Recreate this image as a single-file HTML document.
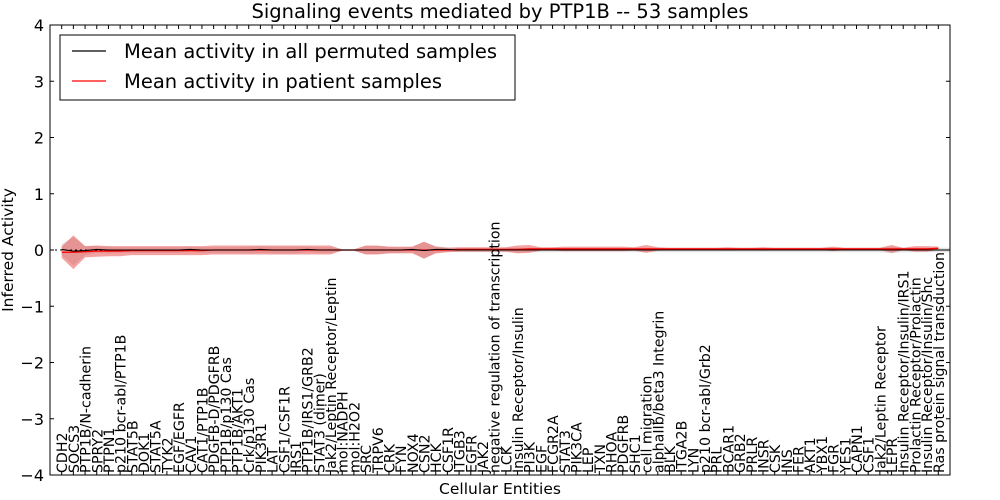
<!DOCTYPE html>
<html><head><meta charset="utf-8"><style>
html,body{margin:0;padding:0;background:#fff;}
svg{display:block;font-family:"DejaVu Sans","Liberation Sans",sans-serif;}
</style></head><body>
<svg id="chart" width="1000" height="500" xmlns="http://www.w3.org/2000/svg"></svg>
<script>
const categories=["CDH2","SOCS3","PTP1B/N-cadherin","SPRY2","PTPN1","p210 bcr-abl/PTP1B","STAT5B","DOK1","STAT5A","TYK2","EGF/EGFR","CAV1","CAT1/PTP1B","PDGFB-D/PDGFRB","PTP1B/p130 Cas","PTP1B/AKT1","Crk/p130 Cas","PIK3R1","LAT","CSF1/CSF1R","IRS1","PTP1B/IRS1/GRB2","STAT3 (dimer)","Jak2/Leptin Receptor/Leptin","mol:NADPH","mol:H2O2","SRC","TRPV6","CRK","FYN","NOX4","CSN2","HCK","CSF1R","ITGB3","EGFR","JAK2","negative regulation of transcription","LCK","Insulin Receptor/Insulin","PI3K","EGF","FCGR2A","STAT3","PIK3CA","LEP","TXN","RHOA","PDGFRB","SHC1","cell migration","alphaIIb/beta3 Integrin","BLK","ITGA2B","LYN","p210 bcr-abl/Grb2","PRL","BCAR1","GRB2","PRLR","INSR","CSK","INS","FER","AKT1","YBX1","FGR","YES1","CAPN1","CSF1","Jak2/Leptin Receptor","LEPR","Insulin Receptor/Insulin/IRS1","Prolactin Receptor/Prolactin","Insulin Receptor/Insulin/Shc","Ras protein signal transduction"];
const patientMean=[-0.04,-0.04,-0.03,-0.02,-0.02,-0.02,-0.01,-0.01,-0.01,-0.01,-0.01,-0.01,-0.01,0,0,0,0,0,0,0,0,0,0,0,0,0,0,0,0,0,0,0,0,0,0.01,0.01,0.01,0.01,0.01,0.01,0.02,0.02,0.02,0.02,0.02,0.02,0.02,0.02,0.02,0.02,0.02,0.02,0.02,0.02,0.02,0.02,0.02,0.02,0.02,0.02,0.02,0.02,0.02,0.02,0.02,0.02,0.02,0.02,0.02,0.02,0.02,0.02,0.02,0.02,0.02,0.03];
const patientStd=[0.1,0.3,0.1,0.1,0.09,0.09,0.08,0.08,0.08,0.08,0.08,0.08,0.08,0.08,0.08,0.08,0.08,0.08,0.08,0.08,0.08,0.08,0.08,0.08,0.01,0.01,0.08,0.08,0.06,0.06,0.06,0.15,0.06,0.04,0.04,0.04,0.04,0.04,0.04,0.07,0.07,0.03,0.03,0.04,0.04,0.04,0.04,0.04,0.04,0.03,0.07,0.03,0.02,0.02,0.02,0.02,0.02,0.03,0.02,0.02,0.03,0.02,0.02,0.02,0.02,0.02,0.04,0.02,0.02,0.02,0.02,0.07,0.02,0.05,0.05,0.03,0.17];
const permutedMean=[0.01,-0.02,-0.01,0.01,0,0,0,0,0,0,0,0.01,0,0,0,0,0,0.01,0,0,0,0.01,0,0,0,0,0,0,0,0,0.01,-0.01,0.01,0.01,0,0,0,0,0,0,0,0,0,0,0,0,0,0,0,0,0,0,0,0,0,0,0,0,0,0,0,0,0,0,0,0,0,0,0,0,0,0,0,0,0,0,0];
const permutedStd=[0.1,0.25,0.08,0.06,0.06,0.05,0.05,0.05,0.05,0.05,0.05,0.05,0.05,0.05,0.05,0.05,0.06,0.06,0.06,0.06,0.06,0.05,0.05,0.05,0.02,0.02,0.07,0.07,0.06,0.05,0.05,0.15,0.06,0.04,0.04,0.04,0.04,0.04,0.04,0.04,0.04,0.04,0.04,0.04,0.04,0.04,0.04,0.04,0.04,0.04,0.04,0.04,0.04,0.04,0.04,0.04,0.04,0.04,0.04,0.04,0.04,0.04,0.04,0.04,0.04,0.04,0.04,0.04,0.04,0.04,0.04,0.06,0.04,0.04,0.04,0.04,0.04];
const yTicks=[4,3,2,1,0,-1,-2,-3,-4];
const yTickLabels=["4","3","2","1","0","\u22121","\u22122","\u22123","\u22124"];

const NS="http://www.w3.org/2000/svg";
const svg=document.getElementById('chart');
const L=50,R=950,T=25,B=475;
const xScale=i=>L+(i+1)*(R-L)/(categories.length+1);
const yScale=v=>T+(4-v)*(B-T)/8;
function mk(tag,attrs,parent){const e=document.createElementNS(NS,tag);for(const k in attrs)e.setAttribute(k,attrs[k]);(parent||svg).appendChild(e);return e;}
function bandPath(m,s){let up=m.map((v,i)=>xScale(i)+','+yScale(v+s[i]));let dn=m.map((v,i)=>xScale(i)+','+yScale(v-s[i])).reverse();return 'M'+up.join('L')+'L'+dn.join('L')+'Z';}
function linePath(m){return 'M'+m.map((v,i)=>xScale(i)+','+yScale(v)).join('L');}

const title=mk('text',{x:500,y:18,'text-anchor':'middle','font-size':'19.5'});
title.textContent='Signaling events mediated by PTP1B -- 53 samples';



const gb=mk('path',{d:bandPath(permutedMean,permutedStd),fill:'#c8c8c8','fill-opacity':'0.5',stroke:'none'});


const rb=mk('path',{d:bandPath(patientMean,patientStd),fill:'#e83030','fill-opacity':'0.45',stroke:'none'});


const zl=mk('line',{x1:L,x2:R,y1:yScale(0),y2:yScale(0),stroke:'#000','stroke-dasharray':'2,3','stroke-width':1});


const rl=mk('path',{d:linePath(patientMean),fill:'none',stroke:'#ff0000','stroke-width':1.3});


const bl=mk('path',{d:linePath(permutedMean),fill:'none',stroke:'#000','stroke-width':1.1});



const frame=mk('rect',{x:L,y:T,width:R-L,height:B-T,fill:'none',stroke:'#000','stroke-width':1});



yTicks.forEach((v,i)=>{
  const y=yScale(v);
  mk('line',{x1:L,x2:L+4,y1:y,y2:y,stroke:'#000'});
  mk('line',{x1:R-4,x2:R,y1:y,y2:y,stroke:'#000'});
  const t=mk('text',{x:L-6,y:y+6,'text-anchor':'end','font-size':'16'});
  t.textContent=yTickLabels[i];
  
  
});
categories.forEach((c,i)=>{
  const x=xScale(i);
  mk('line',{x1:x,x2:x,y1:B,y2:B-4,stroke:'#000'});
  mk('line',{x1:x,x2:x,y1:T,y2:T+4,stroke:'#000'});
  const t=mk('text',{x:0,y:0,transform:`translate(${x+5.5},${B-2}) rotate(-90)`,'font-size':'14.2'});
  t.textContent=c;
  
  
});
const yt=mk('text',{x:0,y:0,transform:'translate(13,250) rotate(-90)','text-anchor':'middle','font-size':'15.5'});
yt.textContent='Inferred Activity';


const xt=mk('text',{x:500,y:494,'text-anchor':'middle','font-size':'15.5'});
xt.textContent='Cellular Entities';



const lg=mk('g',{});


mk('rect',{x:60,y:35,width:455,height:65,fill:'#fff',stroke:'#000'},lg);
mk('line',{x1:72,x2:106,y1:51,y2:51,stroke:'#000','stroke-width':1.2},lg);
const l1=mk('text',{x:124,y:58,'font-size':'19.5'},lg);
l1.textContent='Mean activity in all permuted samples';


mk('line',{x1:72,x2:106,y1:81,y2:81,stroke:'#ff0000','stroke-width':1.2},lg);
const l2=mk('text',{x:124,y:88,'font-size':'19.5'},lg);
l2.textContent='Mean activity in patient samples';


</script>
</body></html>
